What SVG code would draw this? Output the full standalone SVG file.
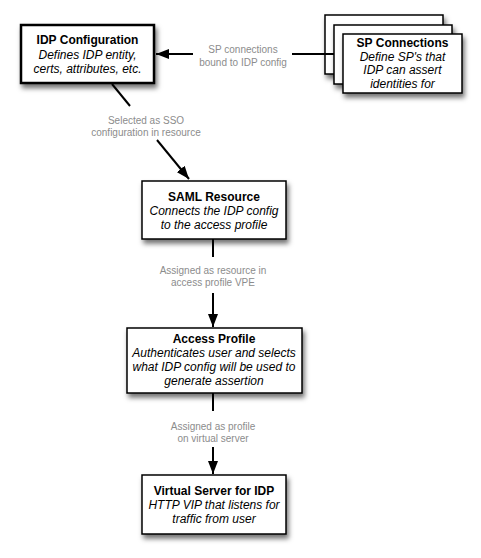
<svg xmlns="http://www.w3.org/2000/svg" width="481" height="558" viewBox="0 0 481 558">
<defs>
<filter id="sh" x="-20%" y="-20%" width="150%" height="160%">
<feDropShadow dx="2" dy="4" stdDeviation="2.5" flood-color="#000" flood-opacity="0.55"/>
</filter>
<marker id="ah" markerUnits="userSpaceOnUse" markerWidth="14" markerHeight="10" refX="13" refY="5" orient="auto">
<path d="M0,0 L13,5 L0,10 Z" fill="#000"/>
</marker>
<style>
.box{fill:#fff;stroke:#000;stroke-width:1.5;filter:url(#sh)}
.thick{stroke-width:2.5}
.t{font-family:"Liberation Sans",Arial,sans-serif;font-size:12px;fill:#000;text-anchor:middle}
.b{font-weight:bold}
.i{font-style:italic}
.lbl{font-family:"Liberation Sans",Arial,sans-serif;font-size:10px;fill:#8c8c8c;text-anchor:middle}
.ln{stroke:#000;stroke-width:2;fill:none}
</style>
</defs>
<rect width="481" height="558" fill="#fff"/>

<g id="idp-config">
<rect class="box thick" x="21" y="25" width="133" height="58"/>
<text class="t b" x="87.5" y="44">IDP Configuration</text>
<text class="t i" x="87.5" y="58.5">Defines IDP entity,</text>
<text class="t i" x="87.5" y="72.5">certs, attributes, etc.</text>
</g>

<g id="sp-connections">
<rect class="box" x="325" y="15" width="118" height="59"/>
<rect class="box" x="334" y="25" width="118" height="59"/>
<rect class="box" x="343" y="34" width="119" height="59"/>
<text class="t b" x="402.5" y="47">SP Connections</text>
<text class="t i" x="402.5" y="60.5">Define SP's that</text>
<text class="t i" x="402.5" y="74">IDP can assert</text>
<text class="t i" x="402.5" y="87.5">identities for</text>
</g>

<g id="saml-resource">
<rect class="box" x="142" y="181" width="144" height="58"/>
<text class="t b" x="214" y="201">SAML Resource</text>
<text class="t i" x="214" y="215">Connects the IDP config</text>
<text class="t i" x="214" y="229">to the access profile</text>
</g>

<g id="access-profile">
<rect class="box" x="127" y="328" width="175" height="65"/>
<text class="t b" x="214" y="343">Access Profile</text>
<text class="t i" x="214" y="357">Authenticates user and selects</text>
<text class="t i" x="214" y="371">what IDP config will be used to</text>
<text class="t i" x="214" y="385">generate assertion</text>
</g>

<g id="virtual-server">
<rect class="box" x="142" y="475" width="144" height="59"/>
<text class="t b" x="214" y="495">Virtual Server for IDP</text>
<text class="t i" x="214" y="509">HTTP VIP that listens for</text>
<text class="t i" x="214" y="523">traffic from user</text>
</g>

<g id="connectors">
<line class="ln" x1="334" y1="54" x2="292" y2="54"/>
<line class="ln" x1="193" y1="54" x2="156" y2="54" marker-end="url(#ah)"/>
<text class="lbl" x="243" y="53">SP connections</text>
<text class="lbl" x="243" y="66">bound to IDP config</text>

<line class="ln" x1="112" y1="84" x2="130" y2="106"/>
<line class="ln" x1="157" y1="140" x2="189" y2="179" marker-end="url(#ah)"/>
<text class="lbl" x="146" y="123.5">Selected as SSO</text>
<text class="lbl" x="146" y="136">configuration in resource</text>

<line class="ln" x1="213" y1="239" x2="213" y2="257"/>
<line class="ln" x1="213" y1="293" x2="213" y2="327" marker-end="url(#ah)"/>
<text class="lbl" x="213" y="273.5">Assigned as resource in</text>
<text class="lbl" x="213" y="286">access profile VPE</text>

<line class="ln" x1="213" y1="393" x2="213" y2="411"/>
<line class="ln" x1="213" y1="447" x2="213" y2="474" marker-end="url(#ah)"/>
<text class="lbl" x="213" y="429.5">Assigned as profile</text>
<text class="lbl" x="213" y="442">on virtual server</text>
</g>
</svg>
